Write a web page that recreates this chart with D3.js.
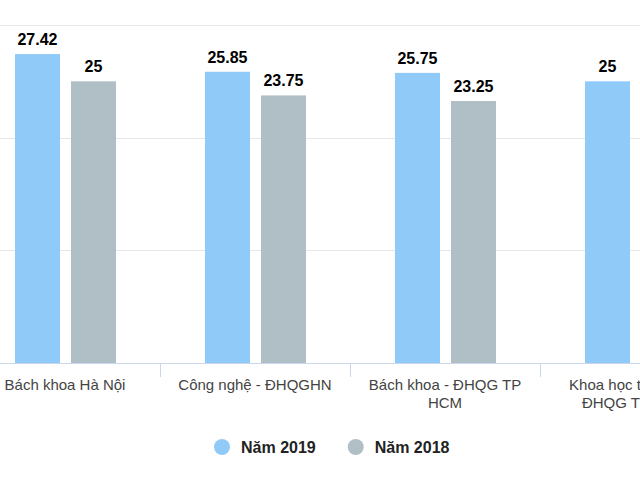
<!DOCTYPE html>
<html>
<head>
<meta charset="utf-8">
<script src="https://cdn.jsdelivr.net/npm/d3@7"></script>
<style>
  html, body { margin: 0; padding: 0; background: #fff; }
  svg { display: block; font-family: "Liberation Sans", Arial, sans-serif; }
</style>
</head>
<body>
<svg id="chart" width="640" height="480"></svg>
<script>
// ---- Data ----
const categories = [
  "Bách khoa Hà Nội",
  "Công nghệ - ĐHQGHN",
  "Bách khoa - ĐHQG TP HCM",
  "Khoa học tự nhiên - ĐHQG TP HCM"
];
const seriesNames = ["Năm 2019", "Năm 2018"];
const values2019 = [27.42, 25.85, 25.75, 25];
const values2018 = [25, 23.75, 23.25, null];
const seriesColors = ["#90caf9", "#b0bec5"];
const yTicks = [0, 10, 20, 30];

// ---- Layout ----
const W = 640, H = 480;
const plotTop = 25, plotBottom = 363;
const bandStep = 190, bandStart = -30;

const svg = d3.select("#chart");

const x0 = d3.scaleBand()
  .domain(categories)
  .range([bandStart, bandStart + bandStep * categories.length])
  .paddingInner(0).paddingOuter(0);

const x1 = d3.scaleBand()
  .domain(seriesNames)
  .range([45, 146])
  .paddingInner(11 / 56)
  .paddingOuter(0);

const y = d3.scaleLinear().domain([0, 30]).range([plotBottom, plotTop]);

// gridlines
svg.append("g")
  .selectAll("line")
  .data(yTicks.filter(t => t > 0))
  .join("line")
  .attr("x1", 0).attr("x2", W)
  .attr("y1", d => Math.round(y(d)) + 0.5)
  .attr("y2", d => Math.round(y(d)) + 0.5)
  .attr("stroke", "#e6e6e6")
  .attr("stroke-width", 1);

// bars
const series = [values2019, values2018];
const barData = [];
categories.forEach((c, i) => {
  series.forEach((vals, s) => {
    if (vals[i] != null) barData.push({ cat: c, s: seriesNames[s], color: seriesColors[s], v: vals[i] });
  });
});

const gBars = svg.append("g");
gBars.selectAll("rect")
  .data(barData)
  .join("rect")
  .attr("x", d => x0(d.cat) + x1(d.s))
  .attr("width", x1.bandwidth())
  .attr("y", d => y(d.v))
  .attr("height", d => y(0) - y(d.v))
  .attr("fill", d => d.color);

// data labels
gBars.selectAll("text")
  .data(barData)
  .join("text")
  .attr("x", d => x0(d.cat) + x1(d.s) + x1.bandwidth() / 2)
  .attr("y", d => y(d.v) - 9)
  .attr("text-anchor", "middle")
  .attr("font-size", 16)
  .attr("font-weight", "bold")
  .attr("fill", "#000")
  .text(d => d3.format("~")(d.v));

// x axis
const xAxis = d3.axisBottom(x0).tickSize(0).tickFormat("");
const gx = svg.append("g").attr("transform", `translate(0,${plotBottom})`);
gx.append("line")
  .attr("x1", 0).attr("x2", W)
  .attr("y1", 0.5).attr("y2", 0.5)
  .attr("stroke", "#ccd6eb");

// tick marks at band boundaries
const boundaries = categories.slice(1).map(c => x0(c));
gx.selectAll("line.tick")
  .data(boundaries)
  .join("line")
  .attr("class", "tick")
  .attr("x1", d => d + 0.5).attr("x2", d => d + 0.5)
  .attr("y1", 0).attr("y2", 14)
  .attr("stroke", "#ccd6eb");

// category labels with wrapping
const maxLabelW = 165;
categories.forEach(c => {
  const cx = x0(c) + x0.bandwidth() / 2;
  const t = gx.append("text")
    .attr("text-anchor", "middle")
    .attr("font-size", 15)
    .attr("fill", "#444");
  const words = c.split(" ");
  let line = [];
  let lineNo = 0;
  let tspan = t.append("tspan").attr("x", cx).attr("y", 27);
  words.forEach(w => {
    line.push(w);
    tspan.text(line.join(" "));
    if (tspan.node().getComputedTextLength() > maxLabelW && line.length > 1) {
      line.pop();
      tspan.text(line.join(" "));
      line = [w];
      lineNo++;
      tspan = t.append("tspan").attr("x", cx).attr("y", 27 + lineNo * 18).text(w);
    }
  });
});

// legend
const legend = svg.append("g");
let lx = 214;
seriesNames.forEach((name, i) => {
  legend.append("circle")
    .attr("cx", lx + 8).attr("cy", 447).attr("r", 8)
    .attr("fill", seriesColors[i]);
  const txt = legend.append("text")
    .attr("x", lx + 27).attr("y", 453)
    .attr("font-size", 16)
    .attr("font-weight", "bold")
    .attr("fill", "#222")
    .text(name);
  lx = lx + 27 + txt.node().getComputedTextLength() + 32;
});
</script>
</body>
</html>
